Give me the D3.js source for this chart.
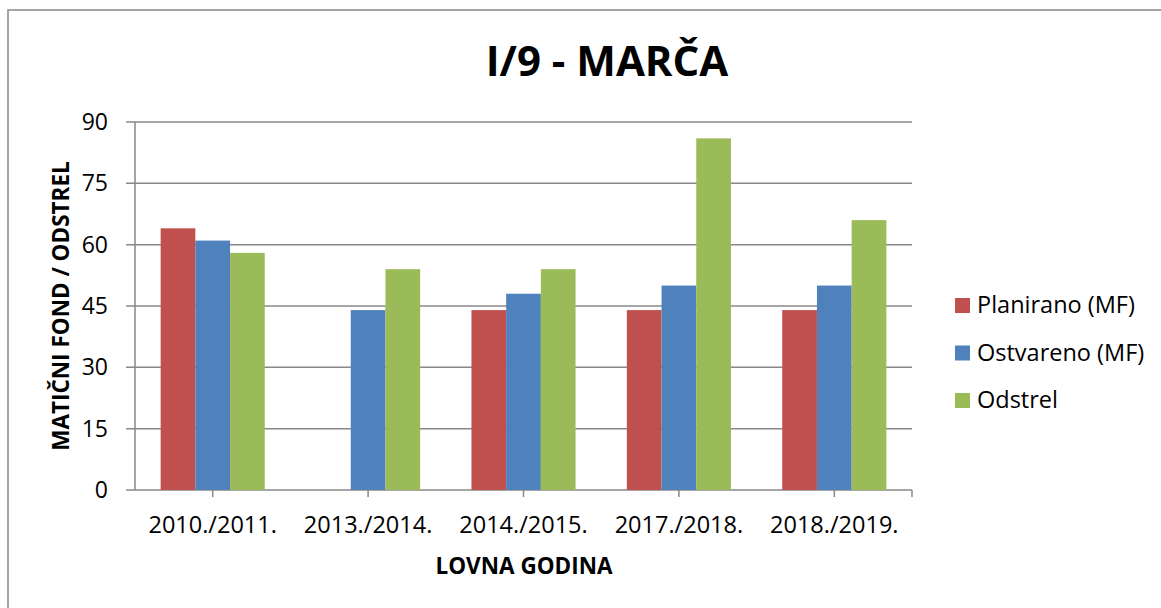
<!DOCTYPE html>
<html>
<head>
<meta charset="utf-8">
<script src="https://cdn.jsdelivr.net/npm/d3@7"></script>
<style>
  body { margin: 0; background: #fff; }
  text { font-family: 'Open Sans', sans-serif; fill: #000; }
</style>
</head>
<body>
<div id="chart"></div>
<script>
const categories = ['2010./2011.', '2013./2014.', '2014./2015.', '2017./2018.', '2018./2019.']
const planirano = [64, null, 44, 44, 44]
const ostvareno = [61, 44, 48, 50, 50]
const odstrel = [58, 54, 54, 86, 66]
const seriesNames = ['Planirano (MF)', 'Ostvareno (MF)', 'Odstrel']
const yTicks = [0, 15, 30, 45, 60, 75, 90]

const colors = ['#C0504D', '#4F81BD', '#9BBB59']
const seriesValues = [planirano, ostvareno, odstrel]

const width = 1161
const height = 608
const plot = { left: 135, right: 912, top: 122, bottom: 490 }

const svg = d3
  .select('#chart')
  .append('svg')
  .attr('width', width)
  .attr('height', height)

// outer frame (runs off the right and bottom edge)
svg
  .append('rect')
  .attr('x', 8)
  .attr('y', 10)
  .attr('width', width + 20)
  .attr('height', height + 20)
  .attr('fill', 'none')
  .attr('stroke', '#888')
  .attr('stroke-width', 1.5)

const x = d3
  .scaleBand()
  .domain(categories)
  .range([plot.left, plot.right])
  .paddingInner(0.33)
  .paddingOuter(0.165)

const xSub = d3
  .scaleBand()
  .domain(d3.range(seriesNames.length))
  .range([0, x.bandwidth()])

const y = d3.scaleLinear().domain([0, 90]).range([plot.bottom, plot.top])

// gridlines + y ticks
svg
  .selectAll('.grid')
  .data(yTicks)
  .enter()
  .append('line')
  .attr('class', 'grid')
  .attr('x1', plot.left - 9)
  .attr('x2', plot.right)
  .attr('y1', d => y(d))
  .attr('y2', d => y(d))
  .attr('stroke', '#888')
  .attr('stroke-width', 1.5)

svg
  .selectAll('.ylabel')
  .data(yTicks)
  .enter()
  .append('text')
  .attr('class', 'ylabel')
  .attr('x', 108)
  .attr('y', d => y(d))
  .attr('dy', '0.35em')
  .attr('text-anchor', 'end')
  .attr('font-size', 23)
  .text(d => d)

// bars
const groups = svg
  .selectAll('.series')
  .data(seriesValues)
  .enter()
  .append('g')
  .attr('class', 'series')
  .attr('fill', (d, i) => colors[i])

groups
  .selectAll('rect')
  .data((vals, si) => vals.map((v, ci) => ({ v, si, ci })).filter(d => d.v != null))
  .enter()
  .append('rect')
  .attr('x', d => x(categories[d.ci]) + xSub(d.si))
  .attr('width', xSub.bandwidth())
  .attr('y', d => y(d.v))
  .attr('height', d => y(0) - y(d.v))

// y axis line
svg
  .append('line')
  .attr('x1', plot.left)
  .attr('x2', plot.left)
  .attr('y1', plot.top)
  .attr('y2', plot.bottom)
  .attr('stroke', '#888')
  .attr('stroke-width', 1.5)

// x tick marks
const xTickPos = categories.map(c => x(c) + x.bandwidth() / 2).concat([plot.right])
svg
  .selectAll('.xtick')
  .data(xTickPos)
  .enter()
  .append('line')
  .attr('x1', d => d)
  .attr('x2', d => d)
  .attr('y1', plot.bottom)
  .attr('y2', plot.bottom + 7)
  .attr('stroke', '#888')
  .attr('stroke-width', 1.5)

svg
  .selectAll('.xlabel')
  .data(categories)
  .enter()
  .append('text')
  .attr('class', 'xlabel')
  .attr('x', d => x(d) + x.bandwidth() / 2)
  .attr('y', 533)
  .attr('text-anchor', 'middle')
  .attr('font-size', 23.5)
  .text(d => d)

// titles
svg
  .append('text')
  .attr('x', 607)
  .attr('y', 76)
  .attr('text-anchor', 'middle')
  .attr('font-size', 42)
  .attr('font-weight', 700)
  .text('I/9 - MARČA')

svg
  .append('text')
  .attr('x', 524)
  .attr('y', 574)
  .attr('text-anchor', 'middle')
  .attr('font-size', 22.5)
  .attr('font-weight', 700)
  .text('LOVNA GODINA')

svg
  .append('text')
  .attr('transform', 'translate(69,306) rotate(-90)')
  .attr('text-anchor', 'middle')
  .attr('font-size', 22.5)
  .attr('font-weight', 700)
  .text('MATIČNI FOND / ODSTREL')

// legend
const legend = svg
  .selectAll('.legend')
  .data(seriesNames)
  .enter()
  .append('g')
  .attr('class', 'legend')
  .attr('transform', (d, i) => `translate(955, ${298 + i * 47.5})`)

legend
  .append('rect')
  .attr('width', 15)
  .attr('height', 15)
  .attr('fill', (d, i) => colors[i])

legend
  .append('text')
  .attr('x', 22)
  .attr('y', 15)
  .attr('font-size', 23.5)
  .text(d => d)
</script>
</body>
</html>
